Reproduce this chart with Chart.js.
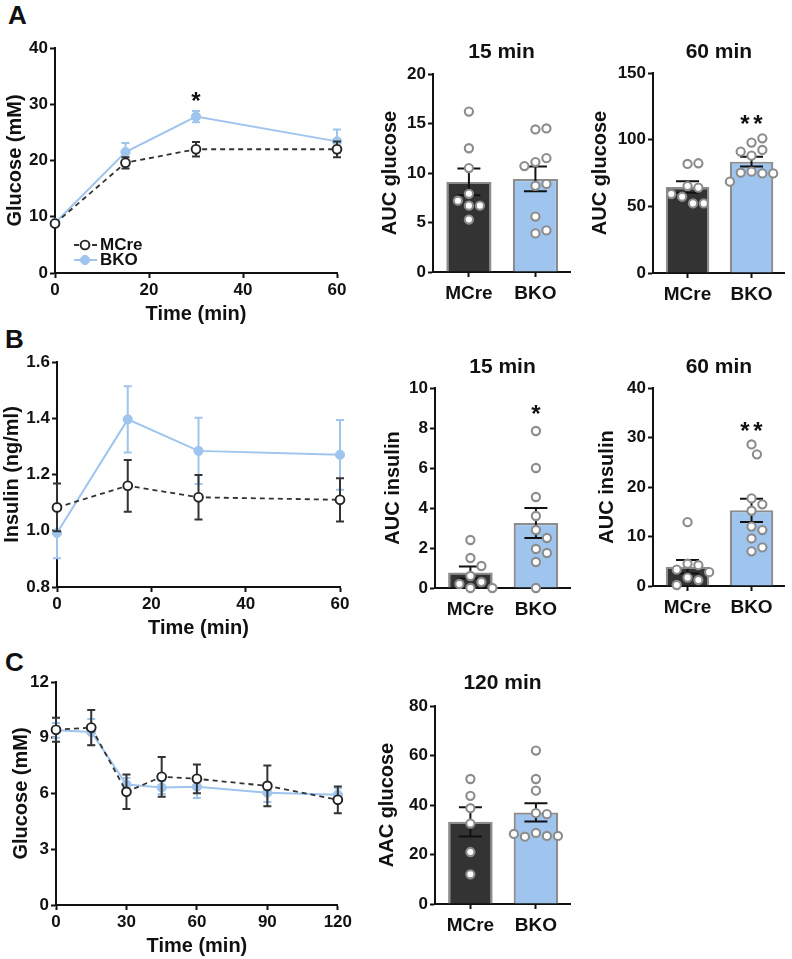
<!DOCTYPE html>
<html><head><meta charset="utf-8">
<script src="https://cdn.jsdelivr.net/npm/chart.js@4.4.1/dist/chart.umd.min.js"></script>
<style>
html,body{margin:0;padding:0;background:#fff}
body{width:792px;height:959px;position:relative;overflow:hidden;font-family:"Liberation Sans",Arial,sans-serif}
.box{position:absolute}
.letter{position:absolute;font-weight:bold;font-size:26px;line-height:1;color:#111;font-family:"Liberation Sans",Arial,sans-serif}
</style></head><body>
<div class="letter" style="left:8px;top:2px">A</div>
<div class="letter" style="left:5px;top:326px">B</div>
<div class="letter" style="left:5px;top:649px">C</div>
<script>
// ---------------- DATA ----------------
const groups = ['MCre', 'BKO'];

// A: glucose tolerance test (time course)
const timeA = [0, 15, 30, 60];
const glucA_MCre = [8.8, 19.6, 22.0, 22.0];
const glucA_MCre_sem = [0.4, 1.0, 1.3, 1.4];
const glucA_BKO = [8.9, 21.5, 27.8, 23.4];
const glucA_BKO_sem = [0.4, 1.6, 1.0, 2.1];
const starsA = [{x: 30, y: 31.5, t: '*'}];

// A: AUC glucose 15 min
const aucG15_MCre = [16.2, 12.5, 10.5, 7.9, 6.7, 6.7, 7.2, 5.3];
const aucG15_BKO = [14.4, 14.5, 11.1, 11.5, 10.7, 8.7, 8.9, 5.6, 3.9, 4.2];
const aucG15_mean = [9.1, 9.4];
const aucG15_sem = [1.35, 1.25];

// A: AUC glucose 60 min
const aucG60_MCre = [81.8, 82.3, 65.2, 64.0, 57.2, 52.2, 52.2, 59.2];
const aucG60_BKO = [97.8, 101.0, 92.3, 88.0, 91.0, 76.0, 74.7, 75.2, 74.7, 68.5];
const aucG60_mean = [64.5, 83.5];
const aucG60_sem = [4.3, 3.7];
const starsG60 = [{x: 1, y: 116, t: '**'}];

// B: insulin (time course)
const timeB = [0, 15, 30, 60];
const insB_MCre = [1.083, 1.160, 1.119, 1.110];
const insB_MCre_sem = [0.085, 0.092, 0.079, 0.077];
const insB_BKO = [0.992, 1.396, 1.284, 1.270];
const insB_BKO_sem = [0.09, 0.118, 0.118, 0.124];

// B: AUC insulin 15 min
const aucI15_MCre = [2.4, 1.5, 1.1, 0.6, 0.3, 0.2, 0.0, 0.0];
const aucI15_BKO = [7.85, 6.0, 4.55, 3.6, 2.9, 2.5, 1.95, 1.75, 1.3, 0.0];
const aucI15_mean = [0.78, 3.25];
const aucI15_sem = [0.3, 0.75];
const starsI15 = [{x: 1, y: 9.0, t: '*'}];

// B: AUC insulin 60 min
const aucI60_MCre = [12.9, 4.5, 4.2, 3.3, 2.8, 1.7, 1.2, 0.2];
const aucI60_BKO = [28.6, 26.6, 17.7, 16.5, 15.2, 12.0, 11.3, 9.6, 7.8, 7.0];
const aucI60_mean = [3.9, 15.3];
const aucI60_sem = [1.35, 2.35];
const starsI60 = [{x: 1, y: 32.5, t: '**'}];

// C: insulin tolerance test (time course)
const timeC = [0, 15, 30, 45, 60, 90, 120];
const glucC_MCre = [9.43, 9.55, 6.09, 6.9, 6.79, 6.41, 5.66];
const glucC_MCre_sem = [0.65, 0.95, 0.93, 1.07, 0.77, 1.1, 0.72];
const glucC_BKO = [9.4, 9.31, 6.48, 6.32, 6.36, 6.04, 5.93];
const glucC_BKO_sem = [0.4, 0.7, 0.35, 0.35, 0.6, 0.5, 0.35];

// C: AAC glucose 120 min
const aacC_MCre = [50.5, 43.7, 38.7, 32.5, 21.0, 12.0];
const aacC_BKO = [62.0, 50.5, 45.8, 36.7, 36.3, 28.7, 27.5, 27.2, 27.5, 28.3];
const aacC_mean = [33.2, 37.0];
const aacC_sem = [5.9, 3.7];

// ---------------- LAYOUT / STYLE ----------------
const DARK = '#333333', BLUE = '#9fc5ee', GREY = '#8c8c8c', INK = '#111111';
const FONT = '"Liberation Sans", Arial, Helvetica, sans-serif';
const X_MIN = -0.54, X_MAX = 1.52;
const G = {
  aLine: {left: 3, top: 34, plotL: 55, plotT: 48, plotR: 337, plotB: 273, padR: 16, xH: 53},
  a15:   {left: 378, top: 30, plotL: 433, plotT: 74, plotR: 570, plotB: 272, padR: 8, xH: 40, titleY: 52},
  a60:   {left: 588, top: 29, plotL: 653, plotT: 73, plotR: 787, plotB: 273, padR: 4, xH: 40, titleY: 52},
  bLine: {left: 0, top: 348, plotL: 57, plotT: 362, plotR: 340, plotB: 587, padR: 16, xH: 53},
  b15:   {left: 381, top: 344, plotL: 435, plotT: 388, plotR: 570, plotB: 588, padR: 8, xH: 40, titleY: 367},
  b60:   {left: 595, top: 344, plotL: 653, plotT: 388, plotR: 787, plotB: 586, padR: 4, xH: 40, titleY: 367},
  cLine: {left: 9, top: 668, plotL: 56, plotT: 682, plotR: 338, plotB: 905, padR: 16, xH: 53},
  c120:  {left: 375, top: 662, plotL: 435, plotT: 706, plotR: 570, plotB: 904, padR: 8, xH: 40, titleY: 683}
};

Chart.defaults.font.family = FONT;
Chart.defaults.font.weight = 'bold';
Chart.defaults.color = INK;
Chart.defaults.animation = false;
Chart.defaults.events = [];
Chart.defaults.plugins.legend.display = false;
Chart.defaults.plugins.tooltip.enabled = false;

function mount(g) {
  const div = document.createElement('div');
  div.className = 'box';
  const w = g.plotR + g.padR - g.left, h = g.plotB + g.xH - g.top;
  div.style.left = g.left + 'px'; div.style.top = g.top + 'px';
  div.style.width = w + 'px'; div.style.height = h + 'px';
  const c = document.createElement('canvas');
  c.width = w; c.height = h; c.style.width = w + 'px'; c.style.height = h + 'px';
  div.appendChild(c); document.body.appendChild(div);
  return c;
}

function drawErr(chart, i) {
  const ds = chart.data.datasets[i];
  const xs = chart.scales.x, ys = chart.scales.y, ctx = chart.ctx;
  ctx.save();
  ctx.strokeStyle = ds.errColor; ctx.lineWidth = ds.errWidth || 2; ctx.setLineDash([]);
  ds.data.forEach((p, k) => {
    const e = ds.errors[k];
    const x = xs.getPixelForValue(p.x);
    const yt = ys.getPixelForValue(p.y + e), yb = ys.getPixelForValue(p.y - e), h = ds.capHalf;
    ctx.beginPath();
    ctx.moveTo(x, yt); ctx.lineTo(x, yb);
    ctx.moveTo(x - h, yt); ctx.lineTo(x + h, yt);
    ctx.moveTo(x - h, yb); ctx.lineTo(x + h, yb);
    ctx.stroke();
  });
  ctx.restore();
}
const errPlugin = {
  id: 'errBars',
  beforeDatasetDraw(chart, args) {
    const ds = chart.data.datasets[args.index];
    if (ds.errors && ds.errPhase === 'before') drawErr(chart, args.index);
  },
  afterDatasetDraw(chart, args) {
    const ds = chart.data.datasets[args.index];
    if (ds.errors && ds.errPhase === 'after') drawErr(chart, args.index);
  }
};
function starPlugin(stars) {
  return {
    id: 'stars',
    afterDraw(chart) {
      const ctx = chart.ctx, xs = chart.scales.x, ys = chart.scales.y;
      ctx.save();
      const size = 24;
      ctx.font = 'bold ' + size + 'px ' + FONT;
      ctx.fillStyle = INK; ctx.textAlign = 'center'; ctx.textBaseline = 'alphabetic';
      stars.forEach(s => {
        const x = xs.getPixelForValue(s.x), y = ys.getPixelForValue(s.y) + 0.57 * size;
        const n = s.t.length, gap = 13;
        for (let k = 0; k < n; k++) ctx.fillText('*', x + (k - (n - 1) / 2) * gap, y);
      });
      ctx.restore();
    }
  };
}
const legendPlugin = {
  id: 'miniLegend',
  afterDatasetsDraw(chart) {
    const ctx = chart.ctx, a = chart.chartArea;
    const dsets = [chart.data.datasets[0], chart.data.datasets[1]];
    const dy = [28, 13];
    ctx.save();
    dsets.forEach((ds, i) => {
      const y = a.bottom - dy[i];
      ctx.beginPath(); ctx.setLineDash(ds.borderDash || []);
      ctx.strokeStyle = ds.borderColor; ctx.lineWidth = ds.borderWidth;
      ctx.moveTo(a.left + 19, y); ctx.lineTo(a.left + 42, y); ctx.stroke();
      ctx.setLineDash([]);
      ctx.beginPath(); ctx.arc(a.left + 30, y, ds.pointRadius, 0, Math.PI * 2);
      ctx.fillStyle = ds.pointBackgroundColor; ctx.fill();
      ctx.lineWidth = ds.pointBorderWidth; ctx.strokeStyle = ds.pointBorderColor; ctx.stroke();
      ctx.fillStyle = INK; ctx.font = 'bold 17px ' + FONT; ctx.textBaseline = 'middle'; ctx.textAlign = 'left';
      ctx.fillText(ds.label, a.left + 45, y);
    });
    ctx.restore();
  }
};

function gridOpts() {
  return {display: true, drawOnChartArea: false, drawTicks: true, tickLength: 5, color: INK, tickColor: INK, tickWidth: 2};
}
function yAxis(g, min, max, step, title, fmt) {
  return {
    type: 'linear', min: min, max: max,
    ticks: {stepSize: step, font: {size: 17, weight: 'bold'}, color: INK, padding: 2,
            callback: fmt || (v => v)},
    title: {display: true, text: title, font: {size: 20, weight: 'bold'}, color: INK, padding: 0},
    grid: gridOpts(),
    border: {display: true, color: INK, width: 2},
    afterFit(s) { s.width = g.plotL - g.left; }
  };
}

function swarm(vals, center, pxY, pxX, d) {
  const placed = [], out = [];
  vals.forEach(v => {
    const py = v * pxY;
    let off = 0;
    for (let k = 0; k < 60; k++) {
      const cand = k === 0 ? 0 : (k % 2 ? 1 : -1) * Math.ceil(k / 2) * d * 0.5;
      if (placed.every(p => Math.hypot(p.ox - cand, p.py - py) >= d)) { off = cand; break; }
    }
    placed.push({ox: off, py: py});
    out.push({x: center + off / pxX, y: v});
  });
  return out;
}

function lineChart(g, o) {
  const cv = mount(g);
  new Chart(cv, {
    type: 'line',
    data: {datasets: [
      {label: groups[0], data: o.t.map((t, i) => ({x: t, y: o.m[i]})), errors: o.ms, errPhase: 'before',
       errColor: '#333333', capHalf: 4, errWidth: 2,
       borderColor: '#333333', borderDash: [5, 4], borderWidth: 1.8,
       pointRadius: 4.4, pointBackgroundColor: '#ffffff', pointBorderColor: '#222222', pointBorderWidth: 1.9,
       order: 1, clip: false, tension: 0},
      {label: groups[1], data: o.t.map((t, i) => ({x: t, y: o.b[i]})), errors: o.bs, errPhase: 'before',
       errColor: BLUE, capHalf: 4, errWidth: 2,
       borderColor: BLUE, borderWidth: 2,
       pointRadius: 4.6, pointBackgroundColor: BLUE, pointBorderColor: BLUE, pointBorderWidth: 1,
       order: 2, clip: false, tension: 0}
    ]},
    options: {
      responsive: false,
      layout: {padding: {left: 0, top: g.plotT - g.top, right: g.padR, bottom: 0}},
      scales: {
        x: {type: 'linear', min: 0, max: o.xMax,
            ticks: {stepSize: o.xStep, font: {size: 17, weight: 'bold'}, color: INK, padding: 2, maxRotation: 0, autoSkip: false},
            title: {display: true, text: 'Time (min)', font: {size: 20, weight: 'bold'}, color: INK, padding: 0},
            grid: gridOpts(), border: {display: true, color: INK, width: 2},
            afterFit(s) { s.height = g.xH; }},
        y: yAxis(g, o.yMin, o.yMax, o.yStep, o.yTitle, o.fmt)
      }
    },
    plugins: [errPlugin].concat(o.stars ? [starPlugin(o.stars)] : []).concat(o.legend ? [legendPlugin] : [])
  });
}

function barChart(g, o) {
  const cv = mount(g);
  const pxY = (g.plotB - g.plotT) / o.yMax;
  const pxX = (g.plotR - g.plotL) / (X_MAX - X_MIN);
  const pts = swarm(o.pts[0], 0, pxY, pxX, 11).concat(swarm(o.pts[1], 1, pxY, pxX, 11));
  const tTop = g.titleY - g.top - 12.6;
  const tBot = (g.plotT - g.top) - tTop - 25.2;
  new Chart(cv, {
    type: 'bar',
    data: {datasets: [
      {type: 'bar', data: o.means.map((m, i) => ({x: i, y: m})), errors: o.sems, errPhase: 'after',
       errColor: INK, capHalf: 11.5, errWidth: 2,
       backgroundColor: [DARK, BLUE], borderColor: GREY, borderWidth: 2.2,
       barPercentage: 0.68, categoryPercentage: 1, order: 2},
      {type: 'scatter', data: pts, pointRadius: 4.1, pointBackgroundColor: '#ffffff',
       pointBorderColor: GREY, pointBorderWidth: 2.1, order: 1, clip: false}
    ]},
    options: {
      responsive: false,
      layout: {padding: {left: 0, top: 0, right: g.padR, bottom: 0}},
      plugins: {title: {display: true, text: o.title, fullSize: false, font: {size: 21, weight: 'bold'},
                        color: INK, padding: {top: tTop, bottom: tBot}}},
      scales: {
        x: {type: 'linear', min: X_MIN, max: X_MAX, offset: false,
            afterBuildTicks(s) { s.ticks = groups.map((_, i) => ({value: i})); },
            ticks: {font: {size: 19, weight: 'bold'}, color: INK, padding: 5, maxRotation: 0, autoSkip: false,
                    callback: v => groups[v] !== undefined ? groups[v] : ''},
            grid: Object.assign(gridOpts(), {offset: false}), border: {display: true, color: INK, width: 2},
            afterFit(s) { s.height = g.xH; }},
        y: yAxis(g, 0, o.yMax, o.yStep, o.yTitle)
      }
    },
    plugins: [errPlugin].concat(o.stars ? [starPlugin(o.stars)] : [])
  });
}

// ---------------- CHARTS ----------------
lineChart(G.aLine, {t: timeA, m: glucA_MCre, ms: glucA_MCre_sem, b: glucA_BKO, bs: glucA_BKO_sem,
  xMax: 60, xStep: 20, yMin: 0, yMax: 40, yStep: 10, yTitle: 'Glucose (mM)', stars: starsA, legend: true});
barChart(G.a15, {title: '15 min', yTitle: 'AUC glucose', yMax: 20, yStep: 5,
  means: aucG15_mean, sems: aucG15_sem, pts: [aucG15_MCre, aucG15_BKO]});
barChart(G.a60, {title: '60 min', yTitle: 'AUC glucose', yMax: 150, yStep: 50,
  means: aucG60_mean, sems: aucG60_sem, pts: [aucG60_MCre, aucG60_BKO], stars: starsG60});

lineChart(G.bLine, {t: timeB, m: insB_MCre, ms: insB_MCre_sem, b: insB_BKO, bs: insB_BKO_sem,
  xMax: 60, xStep: 20, yMin: 0.8, yMax: 1.6, yStep: 0.2, yTitle: 'Insulin (ng/ml)', fmt: v => v.toFixed(1)});
barChart(G.b15, {title: '15 min', yTitle: 'AUC insulin', yMax: 10, yStep: 2,
  means: aucI15_mean, sems: aucI15_sem, pts: [aucI15_MCre, aucI15_BKO], stars: starsI15});
barChart(G.b60, {title: '60 min', yTitle: 'AUC insulin', yMax: 40, yStep: 10,
  means: aucI60_mean, sems: aucI60_sem, pts: [aucI60_MCre, aucI60_BKO], stars: starsI60});

lineChart(G.cLine, {t: timeC, m: glucC_MCre, ms: glucC_MCre_sem, b: glucC_BKO, bs: glucC_BKO_sem,
  xMax: 120, xStep: 30, yMin: 0, yMax: 12, yStep: 3, yTitle: 'Glucose (mM)'});
barChart(G.c120, {title: '120 min', yTitle: 'AAC glucose', yMax: 80, yStep: 20,
  means: aacC_mean, sems: aacC_sem, pts: [aacC_MCre, aacC_BKO]});
</script>
</body></html>
